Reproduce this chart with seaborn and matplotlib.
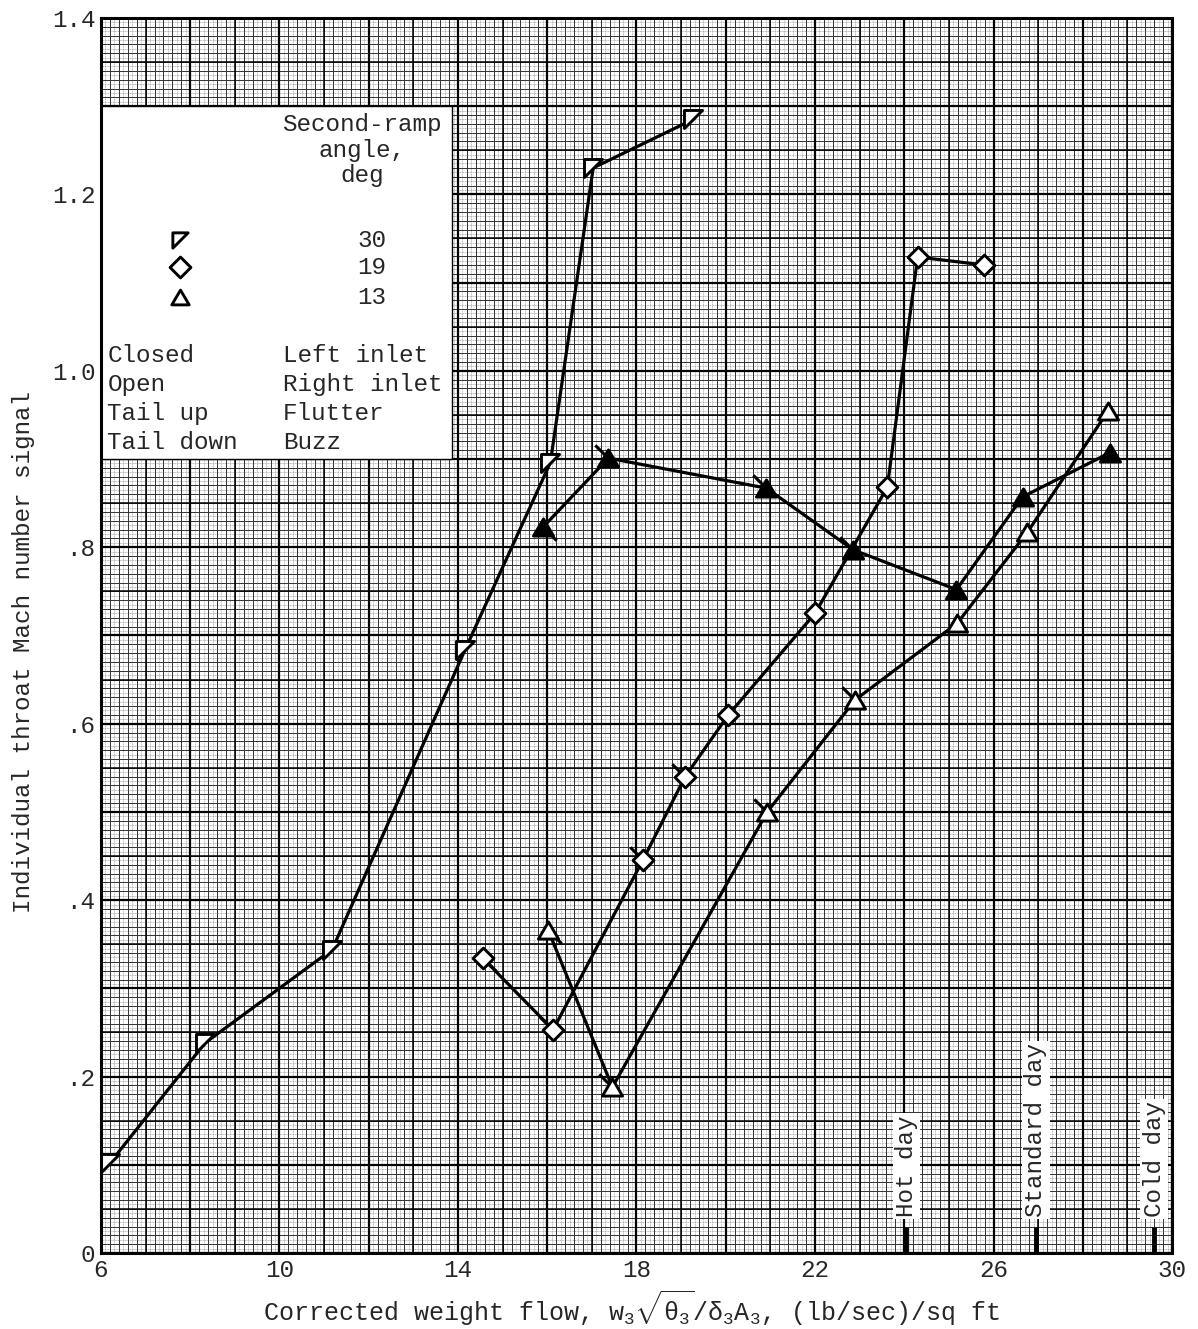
import numpy as np
import matplotlib
matplotlib.use("Agg")
import matplotlib.pyplot as plt
import seaborn as sns
from matplotlib.path import Path
from matplotlib.patches import Rectangle

# second-ramp angle 30 deg (right inlet)
r30_x = [6.2, 8.33, 11.18, 14.16, 16.07, 17.03, 19.27]
r30_y = [0.102, 0.238, 0.344, 0.684, 0.896, 1.230, 1.285]
r30_tail = ['', '', '', '', '', '', '']

# 19 deg (right inlet)
r19_x = [14.56, 16.13, 18.15, 19.09, 20.06, 22.0, 23.62, 24.3, 25.78]
r19_y = [0.334, 0.253, 0.446, 0.540, 0.610, 0.725, 0.868, 1.129, 1.120]
r19_tail = ['down', 'up', 'up', 'up', '', '', '', '', '']

# 13 deg, right inlet (open)
r13o_x = [16.02, 17.46, 20.93, 22.9, 25.19, 26.76, 28.56]
r13o_y = [0.366, 0.188, 0.500, 0.627, 0.714, 0.817, 0.954]
r13o_tail = ['down', 'up', 'up', 'up', '', '', '']

# 13 deg, left inlet (closed)
r13c_x = [15.91, 17.37, 20.91, 22.86, 25.17, 26.65, 28.60]
r13c_y = [0.823, 0.901, 0.867, 0.797, 0.752, 0.857, 0.907]
r13c_tail = ['down', 'up', 'up', 'up', '', '', '']

day_labels = ['Hot day', 'Standard day', 'Cold day']
day_x = [24.05, 26.95, 29.6]

x_ticks = [6, 10, 14, 18, 22, 26, 30]
y_ticks = [0, 0.2, 0.4, 0.6, 0.8, 1.0, 1.2, 1.4]
y_ticklabels = ['0', '.2', '.4', '.6', '.8', '1.0', '1.2', '1.4']

sns.set_style("white")
plt.rcParams['font.family'] = ['Liberation Mono', 'DejaVu Sans Mono']
plt.rcParams['mathtext.fontset'] = 'custom'
plt.rcParams['mathtext.rm'] = 'Liberation Mono'
plt.rcParams['mathtext.it'] = 'Liberation Mono'
FS = 17.5

# marker shapes
FLAG = Path([(-1, 1), (1, 1), (-1, -1), (-1, 1)], closed=True)
DIAMOND = Path([(0, 1), (1, 0), (0, -1), (-1, 0), (0, 1)], closed=True)
TRI = Path([(0, 0.85), (1, -0.85), (-1, -0.85), (0, 0.85)], closed=True)
TAIL_UP = Path([(0, 0), (-1, 1)], [Path.MOVETO, Path.LINETO])
TAIL_DOWN = Path([(0, 0), (1, -1)], [Path.MOVETO, Path.LINETO])

fig = plt.figure(figsize=(11.98, 13.29), dpi=100)
ax = fig.add_axes([0.0843, 0.0572, 0.8940, 0.9293])
ax.set_xlim(6, 30)
ax.set_ylim(0, 1.4)

# graph paper
levels = [(241, 281, 0.4, '0.55', (0, (2, 1))),
          (121, 141, 0.7, '0.2', '-'),
          (25, 29, 1.1, 'k', '-'),
          (13, 15, 1.6, 'k', '-')]
for nx, ny, lw, c, ls in levels:
    ax.vlines(np.linspace(6, 30, nx), 0, 1.4, lw=lw, color=c, ls=ls, zorder=0)
    ax.hlines(np.linspace(0, 1.4, ny), 6, 30, lw=lw, color=c, ls=ls, zorder=0)

# legend panel
ax.add_patch(Rectangle((6, 0.9), 7.87, 0.4, fc='white', ec='k', lw=1, zorder=2))


def draw_series(xs, ys, tails, marker, ms, filled):
    sns.lineplot(x=xs, y=ys, sort=False, estimator=None, color='k', lw=2.3,
                 ax=ax, zorder=3)
    xs = np.array(xs)
    ys = np.array(ys)
    for d, p in (('up', TAIL_UP), ('down', TAIL_DOWN)):
        sel = [i for i, t in enumerate(tails) if t == d]
        if sel:
            ax.plot(xs[sel], ys[sel], ls='none', marker=p, ms=19, mfc='none',
                    mec='k', mew=2.2, zorder=3.5)
    ax.plot(xs, ys, ls='none', marker=marker, ms=ms,
            mfc='k' if filled else 'white', mec='k', mew=2.1, zorder=4)


draw_series(r30_x, r30_y, r30_tail, FLAG, 13, False)
draw_series(r19_x, r19_y, r19_tail, DIAMOND, 15, False)
draw_series(r13o_x, r13o_y, r13o_tail, TRI, 14.5, False)
draw_series(r13c_x, r13c_y, r13c_tail, TRI, 14.5, True)

# legend contents
ax.text(0.2437, 0.923, "Second-ramp\nangle,\ndeg", transform=ax.transAxes,
        ha='center', va='top', fontsize=FS, linespacing=1.15, zorder=5)
for mk, ms, lab, fy in ((FLAG, 11, '30', 0.820), (DIAMOND, 15, '19', 0.798),
                        (TRI, 12.5, '13', 0.774)):
    ax.plot([0.0738], [fy], transform=ax.transAxes, ls='none', marker=mk, ms=ms,
            mfc='white', mec='k', mew=2.1, zorder=5)
    ax.text(0.253, fy, lab, transform=ax.transAxes, ha='center', va='center',
            fontsize=FS, zorder=5)
rows = [('Closed', 'Left inlet'), ('Open', 'Right inlet'),
        ('Tail up', 'Flutter'), ('Tail down', 'Buzz')]
for (a, b), fy in zip(rows, [0.727, 0.703, 0.680, 0.656]):
    ax.text(0.006, fy, a, transform=ax.transAxes, ha='left', va='center',
            fontsize=FS, zorder=5)
    ax.text(0.170, fy, b, transform=ax.transAxes, ha='left', va='center',
            fontsize=FS, zorder=5)

# reference day marks
ax.vlines(day_x, 0, 0.03, color='k', lw=3.5, zorder=3)
for lab, xv in zip(day_labels, day_x):
    ax.text(xv, 0.041, lab, rotation=90, ha='center', va='bottom', fontsize=FS,
            zorder=5, bbox=dict(fc='white', ec='none', pad=1.5))

ax.set_xticks(x_ticks)
ax.set_xticklabels([str(v) for v in x_ticks])
ax.set_yticks(y_ticks)
ax.set_yticklabels(y_ticklabels)
ax.tick_params(length=0, pad=4, labelsize=FS)
for s in ax.spines.values():
    s.set_linewidth(2.2)
    s.set_color('k')
    s.set_zorder(6)

ax.set_xlabel(r"Corrected weight flow, w$_3\sqrt{\theta_3}/\delta_3$A$_3$, (lb/sec)/sq ft",
              fontsize=18)
ax.xaxis.set_label_coords(0.495, -0.029)
ax.set_ylabel("Individual throat Mach number signal", fontsize=FS)
ax.yaxis.set_label_coords(-0.062, 0.487)

fig.savefig("out.png", dpi=100)
